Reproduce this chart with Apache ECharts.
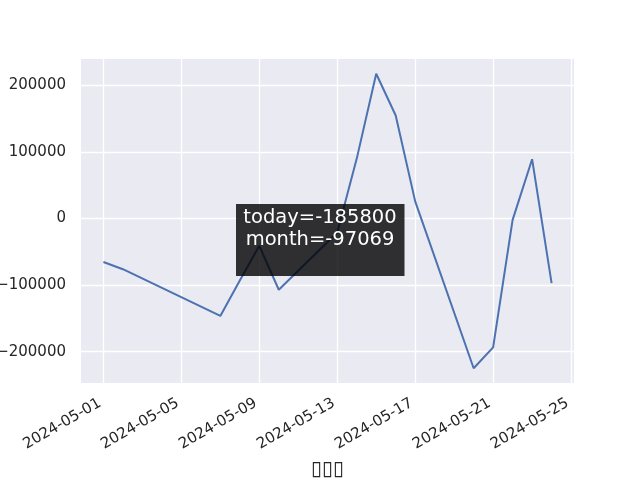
<!DOCTYPE html>
<html>
<head>
<meta charset="utf-8">
<script src="https://cdn.jsdelivr.net/npm/echarts@6/dist/echarts.min.js"></script>
<style>html,body{margin:0;padding:0;background:#fff}#c{width:640px;height:480px}</style>
</head>
<body>
<div id="c"></div>
<script>
const dates = ['2024-05-01','2024-05-02','2024-05-07','2024-05-08','2024-05-09','2024-05-10','2024-05-13','2024-05-14','2024-05-15','2024-05-16','2024-05-17','2024-05-20','2024-05-21','2024-05-22','2024-05-23','2024-05-24'];
const values = [-65200,-76100,-146300,-93000,-41000,-107000,-21000,90000,217500,154800,25800,-224900,-193600,-2000,89100,-97069];
const xTicks = ['2024-05-01','2024-05-05','2024-05-09','2024-05-13','2024-05-17','2024-05-21','2024-05-25'];
const yTicks = [-200000,-100000,0,100000,200000];
const xName = '\u25AF\u25AF\u25AF';
const noteLines = ['today=-185800','month=-97069'];

const FONT = 'DejaVu Sans';
const toT = d => Date.UTC(+d.slice(0,4), +d.slice(5,7) - 1, +d.slice(8,10));
const pad2 = n => (n < 10 ? '0' : '') + n;
const fmtDate = v => { const d = new Date(v); return d.getUTCFullYear() + '-' + pad2(d.getUTCMonth()+1) + '-' + pad2(d.getUTCDate()); };
const t0 = toT(dates[0]);
const t1 = toT(dates[dates.length-1]);
const xm = (t1 - t0) * 0.05;
const ymin = Math.min(...values), ymax = Math.max(...values);
const ym = (ymax - ymin) * 0.05;
const xTickVals = xTicks.map(toT);

const chart = echarts.init(document.getElementById('c'), null, {renderer:'canvas'});
chart.setOption({
  animation: false,
  backgroundColor: '#ffffff',
  grid: {left: 81, right: 66, top: 59, bottom: 97, show: true, backgroundColor: '#EAEAF2', borderWidth: 0, containLabel: false, outerBoundsMode: 'none'},
  xAxis: {
    type: 'value',
    min: t0 - xm, max: t1 + xm,
    name: xName, nameLocation: 'middle', nameGap: 77,
    nameTextStyle: {fontFamily: FONT, fontSize: 20, color: '#262626'},
    axisLine: {show: false},
    axisTick: {show: false, customValues: xTickVals},
    splitLine: {show: true, lineStyle: {color: '#ffffff', width: 1.3}},
    axisLabel: {
      customValues: xTickVals,
      rotate: 30, margin: 17, padding: [0, 4, 0, 0], fontFamily: FONT, fontSize: 15, color: '#262626',
      formatter: v => fmtDate(v),
      hideOverlap: false
    }
  },
  yAxis: {
    type: 'value',
    min: ymin - ym, max: ymax + ym,
    axisLine: {show: false},
    axisTick: {show: false, customValues: yTicks},
    splitLine: {show: true, lineStyle: {color: '#ffffff', width: 1.3}},
    axisLabel: {
      customValues: yTicks,
      margin: 15, fontFamily: FONT, fontSize: 15, color: '#262626',
      formatter: v => String(v).replace('-', '\u2212')
    }
  },
  series: [{
    type: 'line',
    data: dates.map((d, i) => [toT(d), values[i]]),
    showSymbol: false,
    lineStyle: {color: '#4C72B0', width: 2},
    z: 2
  }],
  graphic: [
    {type: 'rect', z: 100, shape: {x: 236, y: 204, width: 168.5, height: 72}, style: {fill: 'rgba(0,0,0,0.8)'}},
    {type: 'text', z: 101, x: 320, y: 207, style: {text: noteLines.join('\n'), fill: '#ffffff', font: '19.5px "DejaVu Sans"', textAlign: 'center', textVerticalAlign: 'top', lineHeight: 22}}
  ]
});
</script>
</body>
</html>
